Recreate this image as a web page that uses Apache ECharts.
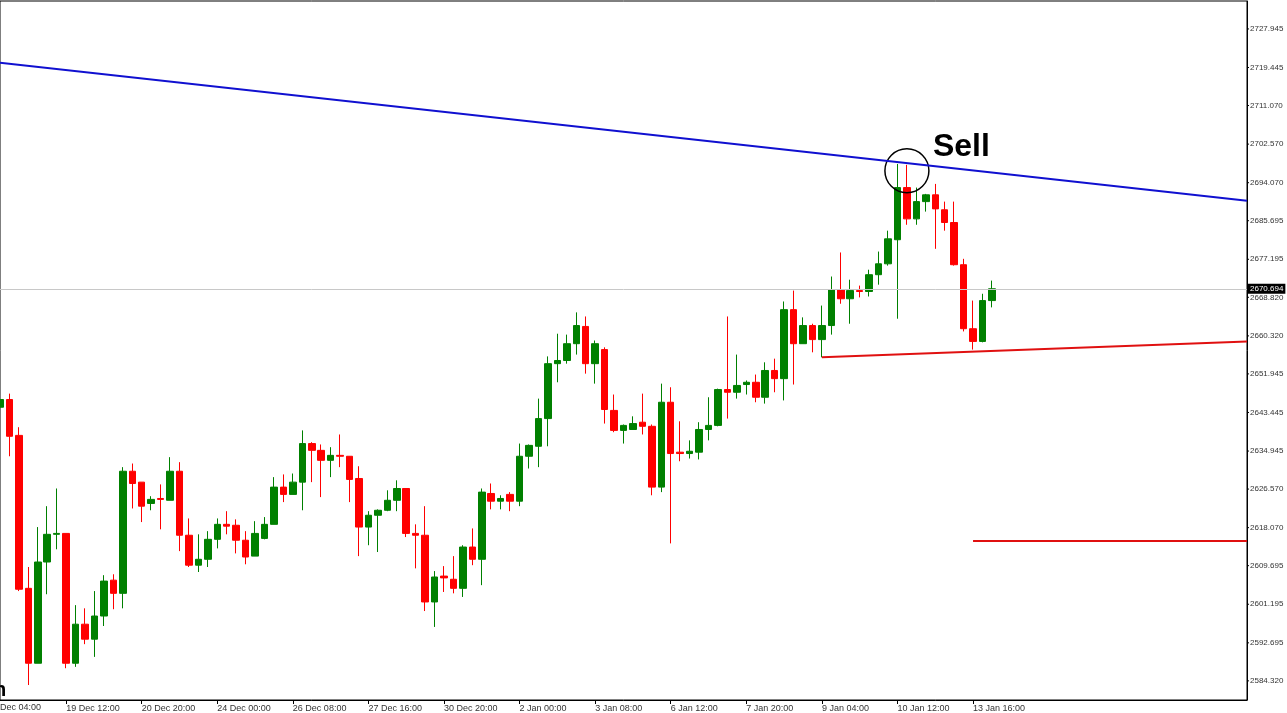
<!DOCTYPE html>
<html style="height: 100%">
<head>
<meta charset="utf-8">
<script src="https://cdn.jsdelivr.net/npm/echarts@6/dist/echarts.min.js"></script>
</head>
<body style="height: 100%; margin: 0; background: #fff">
<div id="container" style="width: 1287px; height: 713px"></div>
<script>
// H4 candles
var opens  = [2644.6,2646.3,2638.4,2604.7,2588.2,2610.5,2616.6,2616.8,2588.2,2596.8,2593.5,2598.6,2606.5,2603.6,2630.5,2628.1,2623.4,2624.5,2624.1,2630.5,
  2616.4,2609.8,2611.1,2615.5,2618.8,2618.6,2615.3,2611.8,2615.7,2618.8,2627.0,2625.4,2628.1,2636.6,2635.1,2632.9,2634.0,2633.8,2628.9,2618.2,
  2620.8,2621.9,2624.1,2626.7,2616.8,2616.4,2601.7,2607.4,2606.7,2604.7,2613.8,2611.1,2625.6,2623.9,2625.4,2623.9,2633.8,2636.0,2642.1,2654.2,
  2654.9,2658.6,2662.4,2654.2,2657.3,2643.9,2639.5,2639.7,2641.3,2640.4,2627.0,2645.7,2634.7,2634.4,2634.7,2639.7,2640.6,2648.5,2647.9,2649.6,
  2650.1,2646.8,2652.7,2650.9,2666.1,2658.6,2662.6,2659.5,2662.6,2670.5,2668.5,2670.3,2670.1,2673.8,2676.2,2681.5,2693.0,2686.1,2689.9,2691.4,
  2688.1,2685.3,2676.0,2661.9,2659.1,2668.1];
var closes = [2646.3,2638.2,2604.5,2588.2,2610.5,2616.6,2616.8,2588.2,2596.8,2593.5,2598.6,2606.3,2603.6,2630.5,2627.8,2622.8,2624.3,2624.3,2630.5,2616.4,
  2609.8,2611.1,2615.5,2618.8,2618.4,2615.3,2611.6,2616.8,2618.8,2627.0,2625.4,2628.1,2636.6,2635.1,2632.9,2634.0,2633.8,2628.7,2618.2,2620.8,
  2621.9,2624.1,2626.7,2616.8,2616.4,2601.7,2607.2,2607.0,2604.7,2613.8,2611.1,2625.9,2623.9,2624.5,2623.9,2633.8,2636.2,2642.1,2654.2,2654.9,
  2658.6,2662.6,2654.2,2658.6,2644.1,2639.5,2640.6,2641.0,2640.4,2627.0,2645.7,2634.4,2634.4,2634.9,2639.7,2640.6,2648.5,2647.9,2649.4,2650.1,
  2646.8,2652.7,2650.9,2666.1,2658.6,2662.6,2659.5,2662.6,2670.5,2668.5,2670.3,2670.1,2673.8,2676.2,2681.7,2693.0,2686.1,2689.9,2691.4,2688.3,
  2685.3,2676.0,2661.9,2659.1,2668.1,2670.7];
var lows   = [2643.9,2633.8,2604.1,2583.4,2588.2,2603.4,2613.3,2587.1,2587.4,2592.4,2589.6,2596.4,2600.1,2600.3,2622.3,2619.3,2621.9,2617.7,2624.1,2612.9,
  2609.4,2608.3,2609.4,2613.5,2616.6,2612.4,2610.0,2611.8,2615.5,2618.8,2623.7,2625.4,2621.9,2628.1,2624.8,2629.2,2631.4,2623.7,2611.8,2614.2,
  2612.7,2621.7,2621.7,2616.0,2609.1,2599.7,2596.2,2603.9,2603.6,2602.8,2609.8,2605.4,2622.1,2622.1,2621.7,2622.8,2631.1,2631.4,2636.0,2650.1,
  2654.2,2656.2,2652.0,2649.8,2641.0,2639.1,2636.6,2639.7,2638.6,2625.2,2625.9,2614.6,2632.7,2633.3,2633.1,2637.3,2640.4,2642.1,2646.5,2647.4,
  2645.7,2645.4,2647.9,2646.1,2649.6,2658.6,2656.7,2655.6,2660.6,2667.4,2663.0,2668.8,2669.0,2671.6,2675.8,2664.1,2684.8,2684.8,2687.7,2679.5,
  2683.5,2675.8,2661.3,2657.3,2658.9,2666.6];
var highs  = [2647.2,2647.6,2640.2,2609.4,2618.2,2622.8,2626.7,2616.8,2601.0,2600.3,2604.1,2607.6,2607.8,2631.4,2632.2,2628.1,2625.0,2627.6,2633.6,2632.5,
  2620.1,2616.6,2617.3,2620.1,2621.7,2619.9,2617.3,2619.5,2620.4,2629.2,2629.8,2630.0,2639.5,2636.9,2636.4,2635.8,2638.6,2633.8,2631.6,2621.7,
  2622.1,2626.3,2628.5,2626.7,2618.8,2622.8,2608.5,2609.6,2611.8,2614.2,2617.9,2626.7,2627.8,2625.2,2625.9,2636.6,2636.4,2646.5,2655.8,2660.8,
  2660.6,2665.5,2664.6,2659.3,2657.8,2647.4,2640.8,2642.6,2647.6,2640.8,2649.8,2649.0,2641.5,2637.3,2641.3,2646.8,2648.7,2664.6,2656.2,2650.5,
  2651.8,2654.5,2655.3,2667.9,2670.3,2664.4,2663.0,2667.0,2673.4,2678.7,2672.7,2671.4,2674.9,2678.9,2683.5,2698.2,2698.0,2693.0,2691.6,2693.8,
  2689.9,2689.9,2677.3,2668.1,2669.6,2672.5];
var tickLabels = {7: '19 Dec 12:00', 15: '20 Dec 20:00', 23: '24 Dec 00:00', 31: '26 Dec 08:00', 39: '27 Dec 16:00',
  47: '30 Dec 20:00', 55: '2 Jan 00:00', 63: '3 Jan 08:00', 71: '6 Jan 12:00', 79: '7 Jan 20:00', 87: '9 Jan 04:00',
  95: '10 Jan 12:00', 103: '13 Jan 16:00'};
var priceLabels = [2727.945, 2719.445, 2711.070, 2702.570, 2694.070, 2685.695, 2677.195, 2668.820, 2660.320,
  2651.945, 2643.445, 2634.945, 2626.570, 2618.070, 2609.695, 2601.195, 2592.695, 2584.320];
var lastPrice = 2670.694;
var resistance = [[0, 2720.5], [132, 2690.1]];
var support = [[87, 2655.6], [132, 2659.1]];
var target = [[103.2, 2615.1], [132, 2615.1]];
var sellPoint = [95.7, 2696.7];

var nCat = 133;
var cats = [];
for (var i = 0; i < nCat; i++) cats.push(tickLabels[i] || '');
var candles = opens.map(function (o, i) { return [o, closes[i], lows[i], highs[i]]; });
var showTick = function (i) { return !!tickLabels[i]; };

var myChart = echarts.init(document.getElementById('container'));
var option = {
  animation: false,
  grid: { left: 0, right: 40, top: 1, bottom: 13, show: true, borderColor: '#000', borderWidth: 1 },
  xAxis: {
    type: 'category', data: cats, boundaryGap: false,
    axisLine: { lineStyle: { color: '#000' } },
    axisTick: { interval: showTick, length: 4, lineStyle: { color: '#000' } },
    axisLabel: { interval: showTick, align: 'left', fontSize: 9, color: '#333', margin: 4, fontFamily: 'Liberation Sans' },
    splitLine: { show: false }
  },
  yAxis: {
    type: 'value', position: 'right', min: 2580.1, max: 2734.1, scale: true,
    axisLine: { show: true, lineStyle: { color: '#000' } },
    axisTick: { show: false }, axisLabel: { show: false }, splitLine: { show: false }
  },
  series: [{
    type: 'candlestick', data: candles, barWidth: 7,
    itemStyle: { color: '#008000', color0: '#ff0000', borderColor: '#008000', borderColor0: '#ff0000', borderWidth: 1 },
    markLine: {
      symbol: 'none', silent: true, label: { show: false },
      data: [
        [{ coord: resistance[0], lineStyle: { color: '#1010d0', width: 2, type: 'solid' } }, { coord: resistance[1] }],
        [{ coord: support[0], lineStyle: { color: '#e01010', width: 2, type: 'solid' } }, { coord: support[1] }],
        [{ coord: target[0], lineStyle: { color: '#e01010', width: 2, type: 'solid' } }, { coord: target[1] }],
        [{ coord: [0, lastPrice], lineStyle: { color: '#c8c8c8', width: 1, type: 'solid' } }, { coord: [132, lastPrice] }]
      ]
    }
  }, {
    type: 'scatter', data: [sellPoint], symbol: 'circle', symbolSize: 44, silent: true,
    itemStyle: { color: 'rgba(0,0,0,0)', borderColor: '#000', borderWidth: 1.5, opacity: 1 }
  }]
};
myChart.setOption(option);

var g = [];
priceLabels.forEach(function (p) {
  var y = myChart.convertToPixel({ yAxisIndex: 0 }, p);
  g.push({ type: 'line', shape: { x1: 1247, y1: y, x2: 1249, y2: y }, style: { stroke: '#000', lineWidth: 1 } });
  g.push({ type: 'text', x: 1250, y: y, style: { text: p.toFixed(3), fontSize: 8, fill: '#333', verticalAlign: 'middle', fontFamily: 'Liberation Sans' } });
});
var ly = myChart.convertToPixel({ yAxisIndex: 0 }, lastPrice);
g.push({ type: 'text', x: 1248, y: ly, z: 10, style: { text: lastPrice.toFixed(3), fontSize: 8, fill: '#fff', backgroundColor: '#000', padding: [1, 2], verticalAlign: 'middle', fontFamily: 'Liberation Sans' } });
var sp = myChart.convertToPixel({ xAxisIndex: 0, yAxisIndex: 0 }, sellPoint);
g.push({ type: 'text', x: sp[0] + 26, y: sp[1] - 24, z: 10, style: { text: 'Sell', fontSize: 32, fontWeight: 'bold', fill: '#000', verticalAlign: 'middle', fontFamily: 'Liberation Sans' } });
g.push({ type: 'text', x: 0, y: 703, style: { text: 'Dec 04:00', fontSize: 9, fill: '#333', verticalAlign: 'top', fontFamily: 'Liberation Sans' } });
g.push({ type: 'text', x: -6, y: 690, style: { text: 'h', fontSize: 20, fontWeight: 'bold', fill: '#000', verticalAlign: 'middle' } });
myChart.setOption({ graphic: g });
</script>
</body>
</html>
